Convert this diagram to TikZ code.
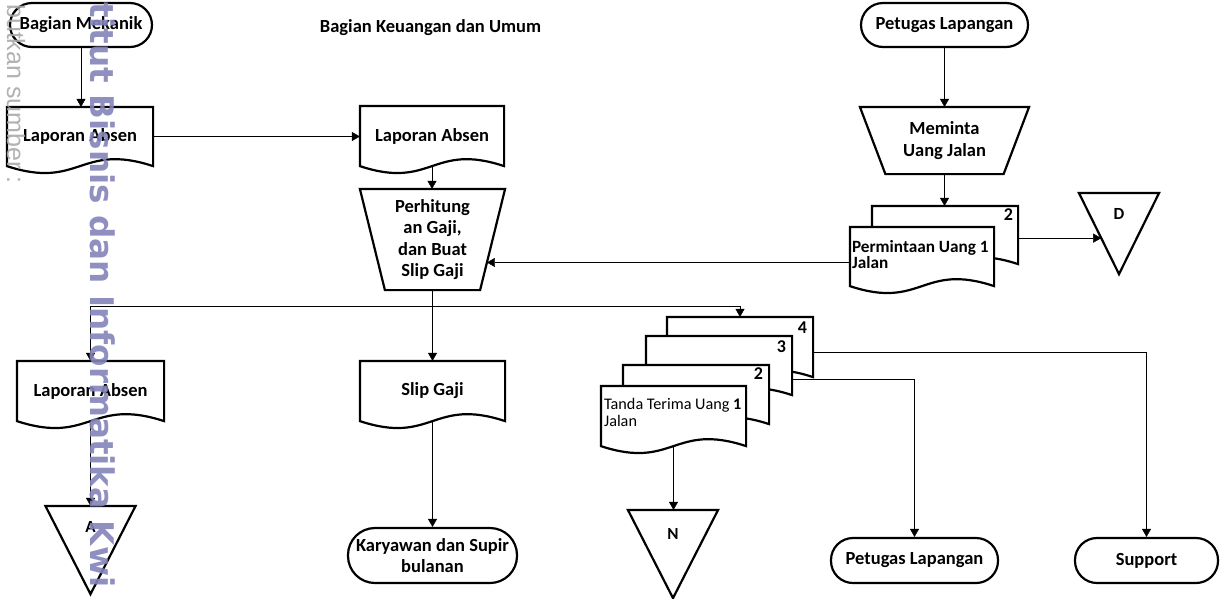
\documentclass[tikz,border=0pt]{standalone}
\usepackage{fontspec}
\setmainfont{Carlito}
\newfontfamily\wmfont{DejaVu Sans}
\newfontfamily\wmgfont{Liberation Sans}
\usetikzlibrary{arrows.meta,calc}
\pgfdeclarelayer{bg}
\pgfsetlayers{bg,main}
\definecolor{wmblue}{RGB}{132,132,186}
\definecolor{wmgray}{RGB}{170,170,170}
\newcommand\DrawDoc[1]{\draw[shp] (#1.north west) -- (#1.north east) -- (#1.south east) .. controls ($(#1.south)+(0,-24)$) and ($(#1.south)+(0,24)$) .. (#1.south west) -- cycle;}
\newcommand\DrawTrap[2]{\draw[shp] (#1.north west) -- (#1.north east) -- ($(#1.south east)+(-#2,0)$) -- ($(#1.south west)+(#2,0)$) -- cycle;}
\newcommand\DrawTri[1]{\draw[shp] (#1.north west) -- (#1.north east) -- (#1.south) -- cycle;}
\begin{document}
\begin{tikzpicture}[x=1pt,y=-1pt,
  line width=2.2pt,
  every node/.style={font=\bfseries\fontsize{18.5}{21.5}\selectfont, inner sep=0pt},
  term/.style={draw, rounded corners=#1, line width=2.2pt},
  shp/.style={draw, fill=white, line width=2.2pt, line join=miter},
  arr/.style={-{Triangle[length=8pt,width=9pt]}},
  lbl/.style={font=\bfseries\fontsize{17}{20}\selectfont},
  num/.style={font=\bfseries\fontsize{18}{20}\selectfont, anchor=north east},
]
\useasboundingbox (0,0) rectangle (1221,598);

% ---------- nodes ----------
\node[term=22pt, minimum width=142pt, minimum height=44pt] (bm) at (81,25) {Bagian Mekanik};
\node (title) at (430.5,28) {Bagian Keuangan dan Umum};
\node[term=22pt, minimum width=167pt, minimum height=44pt] (pl1) at (944.5,25) {Petugas Lapangan};

\node[minimum width=144pt, minimum height=57pt] (la1) at (80,136.5) {Laporan Absen};
\node[minimum width=142pt, minimum height=58pt] (la2) at (432,136) {Laporan Absen};
\node[minimum width=143pt, minimum height=99pt, align=center] (pg) at (432.5,239.5) {Perhitung\\an Gaji,\\dan Buat\\Slip Gaji};
\node[minimum width=167pt, minimum height=65pt, align=center] (mu) at (944.5,140.5) {Meminta\\Uang Jalan};

\node[minimum width=144pt, minimum height=56pt] (pm2) at (945,235) {};
\node[minimum width=142pt, minimum height=57pt] (pm1) at (922,256.5) {};
\node[minimum width=78pt, minimum height=79pt] (triD) at (1119,233.5) {};

\node[minimum width=145pt, minimum height=58pt] (laL) at (90.5,391) {Laporan Absen};
\node[minimum width=88pt, minimum height=86pt] (triA) at (90.5,550) {};
\node[minimum width=143pt, minimum height=58pt] (sg) at (432.5,391) {Slip Gaji};
\node[term=27pt, minimum width=169pt, minimum height=55pt, align=center] (kar) at (432.5,555.5) {Karyawan dan Supir\\bulanan};

\node[minimum width=144pt, minimum height=58pt] (tt4) at (740,347) {};
\node[minimum width=144pt, minimum height=57pt] (tt3) at (719,365.5) {};
\node[minimum width=144pt, minimum height=57pt] (tt2) at (696,394.5) {};
\node[minimum width=143pt, minimum height=58pt] (tt1) at (673.5,416) {};
\node[minimum width=88pt, minimum height=86pt] (triN) at (673,554) {};

\node[term=22pt, minimum width=167pt, minimum height=45pt] (pl2) at (914.5,560.5) {Petugas Lapangan};
\node[term=22pt, minimum width=143pt, minimum height=45pt] (sup) at (1146.5,560.5) {Support};

% ---------- shapes ----------
\begin{pgfonlayer}{bg}
  \fill[white] (0,0) rectangle (1221,598);
  \DrawDoc{la1}
  \DrawDoc{la2}
  \DrawTrap{pg}{25}
  \DrawTrap{mu}{25.5}
  \DrawDoc{pm2}
  \DrawDoc{pm1}
  \DrawTri{triD}
  \DrawDoc{laL}
  \DrawTri{triA}
  \DrawDoc{sg}
  \DrawDoc{tt4}
  \DrawDoc{tt3}
  \DrawDoc{tt2}
  \DrawDoc{tt1}
  \DrawTri{triN}
\end{pgfonlayer}

% ---------- labels inside shapes ----------
\node[lbl] (labD) at ($(triD.north)+(0,21)$) {D};
\node[lbl] (labA) at ($(triA.north)+(0,21)$) {A};
\node[lbl] (labN) at ($(triN.north)+(0,24)$) {N};
\node[num] (n2a) at ($(pm2.north east)+(-5,3)$) {2};
\node[num] (n4) at ($(tt4.north east)+(-6,5)$) {4};
\node[num] (n3) at ($(tt3.north east)+(-6,5)$) {3};
\node[num] (n2b) at ($(tt2.north east)+(-6,3)$) {2};
\node[anchor=north west, align=left, font=\bfseries\fontsize{17.2}{16.5}\selectfont] (pmtxt) at ($(pm1.north west)+(2,13)$) {Permintaan Uang 1\\Jalan};
\node[anchor=north west, align=left, font=\mdseries\fontsize{16.2}{17.5}\selectfont] (tttxt) at ($(tt1.north west)+(3,12)$) {Tanda Terima Uang \textbf{1}\\Jalan};

% ---------- connectors ----------
\draw[arr] (bm.south) -- (bm.south |- la1.north);
\draw[arr] (la1.east) -- (la1.east -| la2.west);
\draw[arr] (la2.south) -- (la2.south |- pg.north);
\draw[arr] (pl1.south) -- (pl1.south |- mu.north);
\draw[arr] (mu.south) -- (mu.south |- pm2.north);
\coordinate (pgR) at ($(pg.north east)!0.727!($(pg.south east)+(-25,0)$)$);
\draw[arr] (pm1.west |- pgR) -- (pgR);
\coordinate (dL) at ($(triD.north west)!0.557!(triD.south)$);
\draw[arr] (pm2.east |- dL) -- (dL);
\coordinate (j1) at ($(pg.south)+(0,16)$);
\draw[arr] (pg.south) -- (pg.south |- sg.north);
\draw[arr] (j1) -| (laL.north);
\draw[arr] (j1) -| (tt4.north);
\draw[arr] (laL.south) -- (laL.south |- triA.north);
\draw[arr] (sg.south) -- (sg.south |- kar.north);
\draw[arr] (tt1.south) -- (tt1.south |- triN.north);
\draw[arr] ($(tt3.east)+(0,14)$) -| (pl2.north);
\draw[arr] ($(tt4.east)+(0,5)$) -| (sup.north);

% ---------- watermark ----------
\node[anchor=base west, rotate=-90, font=\wmfont\bfseries\fontsize{32.6}{34}\selectfont, text=wmblue, opacity=0.9] (wm1) at (90,2) {titut Bisnis dan Informatika Kwi};
\node[anchor=base west, rotate=-90, font=\wmgfont\mdseries\fontsize{25}{27}\selectfont, text=wmgray, opacity=0.9] (wm2) at (7,4) {butkan sumber :};
\end{tikzpicture}
\end{document}
